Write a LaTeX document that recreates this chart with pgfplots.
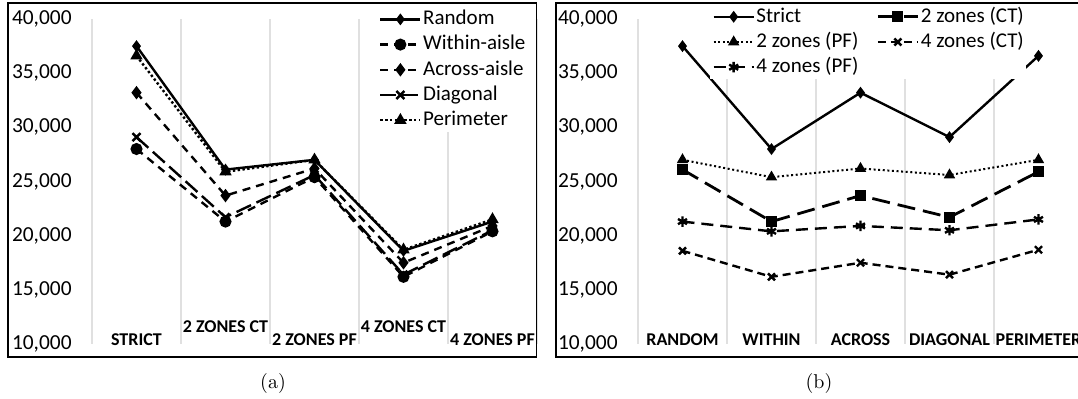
\documentclass[border=0pt]{standalone}
\usepackage{fontspec}
\newfontfamily\calibri{Carlito}
\usepackage{pgfplots}
\pgfplotsset{compat=1.18}
\usetikzlibrary{plotmarks}

\pgfplotstableread{
x random within across diagonal perimeter
0 37500 28000 33200 29100 36600
1 26100 21300 23700 21700 25900
2 27000 25400 26200 25600 27000
3 18600 16200 17500 16400 18700
4 21300 20400 20900 20500 21500
}\zonedata

\pgfplotstableread{
x strict twoct twopf fourct fourpf
0 37500 26100 27000 18600 21300
1 28000 21300 25400 16200 20400
2 33200 23700 26200 17500 20900
3 29100 21700 25600 16400 20500
4 36600 25900 27000 18700 21500
}\policydata

\pgfplotsset{
 excel/.style={
  scale only axis, width=222.5pt, height=162.5pt,
  xmin=-0.5, xmax=4.5, ymin=10000, ymax=40000,
  scaled y ticks=false,
  axis line style={draw=none},
  xtick={0,...,4}, minor xtick={-0.5,0.5,...,4.5},
  xminorgrids, minor grid style={draw=black!12, line width=0.6pt},
  major tick length=0pt, minor tick length=0pt,
  ytick={10000,15000,...,40000},
  yticklabels={{10,000},{15,000},{20,000},{25,000},{30,000},{35,000},{40,000}},
  yticklabel style={font=\calibri\fontsize{10.7}{12}\selectfont, anchor=east, inner sep=0pt, xshift=-10pt},
  xticklabel style={font=\calibri\bfseries\fontsize{9}{10}\selectfont, anchor=base, inner sep=0pt, yshift=-0.5pt},
  legend cell align=left,
  legend style={draw=none, fill=white, font=\calibri\fontsize{10.5}{12}\selectfont,
    inner sep=1pt, row sep=2.6pt,
    nodes={inner sep=0pt, text height=7.7pt, text depth=2.3pt}, anchor=north west,
    /tikz/every odd column/.append style={column sep=0.8pt}},
  legend image code/.code={\draw[mark repeat=2,mark phase=2,#1] plot coordinates {(0pt,0pt) (10pt,0pt) (20pt,0pt)};},
  every axis plot/.append style={line width=1.2pt, black, mark options={solid, fill=black}},
  clip=false,
 }
}

\begin{document}
\begin{tikzpicture}
\path[use as bounding box] (0,0) rectangle (539pt,199pt);
\clip (0,0) rectangle (539pt,199pt);

\begin{axis}[excel, at={(46pt,27pt)}, anchor=south west,
  xticklabels={STRICT, \raisebox{6.5pt}{2 ZONES CT}, 2 ZONES PF, \raisebox{6.5pt}{4 ZONES CT}, 4 ZONES PF},
  legend style={at={(0.640,1.037)}}]
\addplot[solid, mark=diamond*, mark size=2pt] table[x=x, y=random] {\zonedata};
\addlegendentry{Random}
\addplot[dash pattern=on 4pt off 3pt, mark=*, mark size=2.4pt] table[x=x, y=within] {\zonedata};
\addlegendentry{Within-aisle}
\addplot[dash pattern=on 4pt off 3pt, mark=diamond*, mark size=2.4pt] table[x=x, y=across] {\zonedata};
\addlegendentry{Across-aisle}
\addplot[dash pattern=on 8pt off 3pt, mark=x, mark size=2.8pt] table[x=x, y=diagonal] {\zonedata};
\addlegendentry{Diagonal}
\addplot[dash pattern=on 1.2pt off 1.2pt, mark=triangle*, mark size=2.4pt] table[x=x, y=perimeter] {\zonedata};
\addlegendentry{Perimeter}
\end{axis}

\begin{axis}[excel, at={(319pt,27pt)}, anchor=south west,
  xticklabels={RANDOM, WITHIN, ACROSS, DIAGONAL, PERIMETER},
  legend columns=2,
  legend style={at={(0.162,1.045)}, /tikz/every even column/.append style={column sep=9pt}}]
\addplot[solid, mark=diamond*, mark size=2pt] table[x=x, y=strict] {\policydata};
\addlegendentry{Strict}
\addplot[line width=1.4pt, dash pattern=on 9pt off 4pt, mark=square*, mark size=2pt] table[x=x, y=twoct] {\policydata};
\addlegendentry{2 zones (CT)}
\addplot[line width=1pt, dash pattern=on 1pt off 1.3pt, mark=triangle*, mark size=2.3pt] table[x=x, y=twopf] {\policydata};
\addlegendentry{2 zones (PF)}
\addplot[dash pattern=on 4pt off 2.5pt, mark=x, mark size=2.5pt] table[x=x, y=fourct] {\policydata};
\addlegendentry{4 zones (CT)}
\addplot[dash pattern=on 6pt off 3.5pt, mark=asterisk, mark size=2.6pt] table[x=x, y=fourpf] {\policydata};
\addlegendentry{4 zones (PF)}
\end{axis}

\draw[line width=0.7pt] (4pt,20.5pt) rectangle (268.3pt,197.5pt);
\draw[line width=0.7pt] (278pt,20.5pt) rectangle (560pt,197.5pt);
\node at (136.5pt,7.5pt) {(a)};
\node at (409.5pt,7.5pt) {(b)};
\end{tikzpicture}
\end{document}
